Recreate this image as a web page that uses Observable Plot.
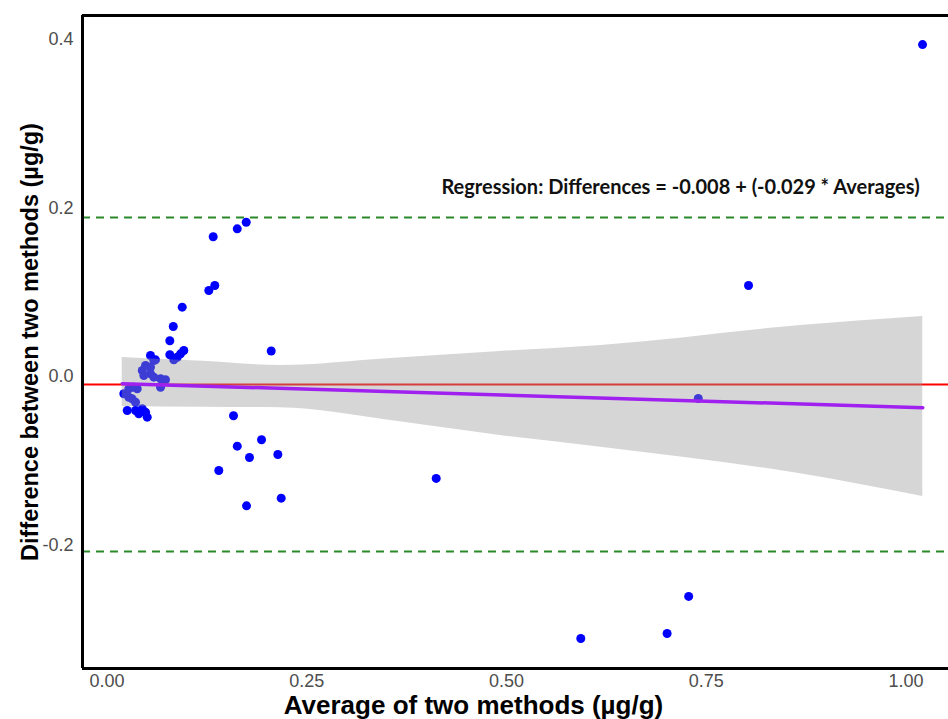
<!DOCTYPE html>
<html>
<head>
<meta charset="utf-8">
<script src="https://cdn.jsdelivr.net/npm/d3@7"></script>
<script src="https://cdn.jsdelivr.net/npm/@observablehq/plot@0.6"></script>
<style>
  body { margin: 0; background: #fff; }
  #chart svg { display: block; }
</style>
</head>
<body>
<div id="chart"></div>
<script>
// ---- data ----
const averages = [
  1.0207, 0.8029, 0.740, 0.412, 0.728, 0.701, 0.593,
  0.1742, 0.1630, 0.1329, 0.1349, 0.1274, 0.0941, 0.0829, 0.0786, 0.2055,
  0.0961, 0.0920, 0.0879, 0.0836, 0.0786,
  0.1583, 0.1630, 0.1934, 0.1783, 0.2138, 0.1399, 0.2180, 0.1746,
  0.0544, 0.0586, 0.0482, 0.0441, 0.0461, 0.0544, 0.0586, 0.0670, 0.0732, 0.0670,
  0.0335, 0.0273, 0.0210, 0.0273, 0.0315, 0.0357, 0.0253, 0.0357, 0.0441, 0.0482,
  0.0503, 0.0398, 0.0607, 0.0544, 0.0378
];
const differences = [
  0.394, 0.108, -0.0261, -0.121, -0.261, -0.305, -0.311,
  0.1831, 0.1753, 0.1659, 0.1080, 0.1021, 0.0823, 0.0593, 0.0424, 0.0303,
  0.0309, 0.0269, 0.0229, 0.0198, 0.0258,
  -0.0466, -0.0827, -0.0751, -0.0961, -0.0926, -0.1116, -0.1444, -0.1535,
  0.0249, 0.0190, 0.0131, 0.0071, 0.0012, 0.0032, -0.0008, -0.0027, -0.0039, -0.0127,
  -0.0127, -0.0146, -0.0205, -0.0246, -0.0265, -0.0305, -0.0404, -0.0404, -0.0383, -0.0424,
  -0.0483, -0.0443, 0.0198, 0.0110, -0.0146
];

const meanDifference = -0.0095;
const upperLimit = 0.1887;
const lowerLimit = -0.2077;

const regressionX = [0.019, 1.021];
const regressionY = [-0.0085, -0.037];

const bandX  = [0.019, 0.12, 0.217, 0.355, 0.492, 0.618, 0.868, 1.021];
const bandHi = [0.0226, 0.0180, 0.0131, 0.0214, 0.0297, 0.0368, 0.0605, 0.0712];
const bandLo = [-0.0356, -0.0365, -0.0372, -0.0522, -0.0700, -0.0839, -0.1155, -0.1424];

const xTicks = [0, 0.25, 0.5, 0.75, 1.0];
const yTicks = [-0.2, 0.0, 0.2, 0.4];
const xDomain = [-0.0307, 1.0532];
const yDomain = [-0.3466, 0.4285];

const xTitle = "Average of two methods (µg/g)";
const yTitle = "Difference between two methods (µg/g)";
const regressionText = "Regression: Differences = -0.008 + (-0.029 * Averages)";
const annotationX = 0.7178;
const annotationY = 0.2243;

// ---- tables built from the arrays ----
const points = averages.map((a, i) => ({avg: a, diff: differences[i]}));
const band = bandX.map((x, i) => ({x, lo: bandLo[i], hi: bandHi[i]}));
const regression = regressionX.map((x, i) => ({x, y: regressionY[i]}));

const chart = Plot.plot({
  width: 948,
  height: 719,
  marginLeft: 82,
  marginRight: 0,
  marginTop: 15,
  marginBottom: 51,
  style: {fontFamily: "'Liberation Sans', Arial, sans-serif", background: "#fff"},
  x: {domain: xDomain},
  y: {domain: yDomain},
  marks: [
    Plot.axisX({ticks: xTicks, tickFormat: d => d.toFixed(2), tickSize: 0, tickPadding: 6, fontSize: 18, color: "#4d4d4d", label: null}),
    Plot.axisY({ticks: yTicks, tickFormat: d => d.toFixed(1), tickSize: 0, tickPadding: 9, fontSize: 18, color: "#4d4d4d", label: null}),
    Plot.ruleY([upperLimit, lowerLimit], {stroke: "#2a8a2a", strokeWidth: 2, strokeDasharray: "8,6"}),
    Plot.dot(points, {x: "avg", y: "diff", r: 4.5, fill: "#0000ff", stroke: "none"}),
    Plot.ruleY([meanDifference], {stroke: "#ff0000", strokeWidth: 2}),
    Plot.areaY(band, {x: "x", y1: "lo", y2: "hi", fill: "#999999", fillOpacity: 0.4, curve: "monotone-x"}),
    Plot.line(regression, {x: "x", y: "y", stroke: "#a020f0", strokeWidth: 3.5}),
    Plot.ruleY([yDomain[1]], {stroke: "black", strokeWidth: 3}),
    Plot.ruleY([yDomain[0]], {stroke: "black", strokeWidth: 3}),
    Plot.ruleX([xDomain[0]], {stroke: "black", strokeWidth: 3}),
    Plot.text([{x: annotationX, y: annotationY, t: regressionText}], {
      x: "x", y: "y", text: "t", fontSize: 20, fontWeight: "bold",
      fontFamily: "Lato, 'Open Sans', sans-serif", fill: "#111"
    }),
    Plot.text([xTitle], {frameAnchor: "bottom", textAnchor: "middle", lineAnchor: "top", dx: -42, dy: 27.5, fontSize: 26, fontWeight: "bold", fill: "#000"}),
    Plot.text([yTitle], {frameAnchor: "left", textAnchor: "middle", lineAnchor: "middle", rotate: -90, dx: -52, fontSize: 23.5, fontWeight: "bold", fill: "#000"})
  ]
});
document.getElementById("chart").appendChild(chart);
</script>
</body>
</html>
